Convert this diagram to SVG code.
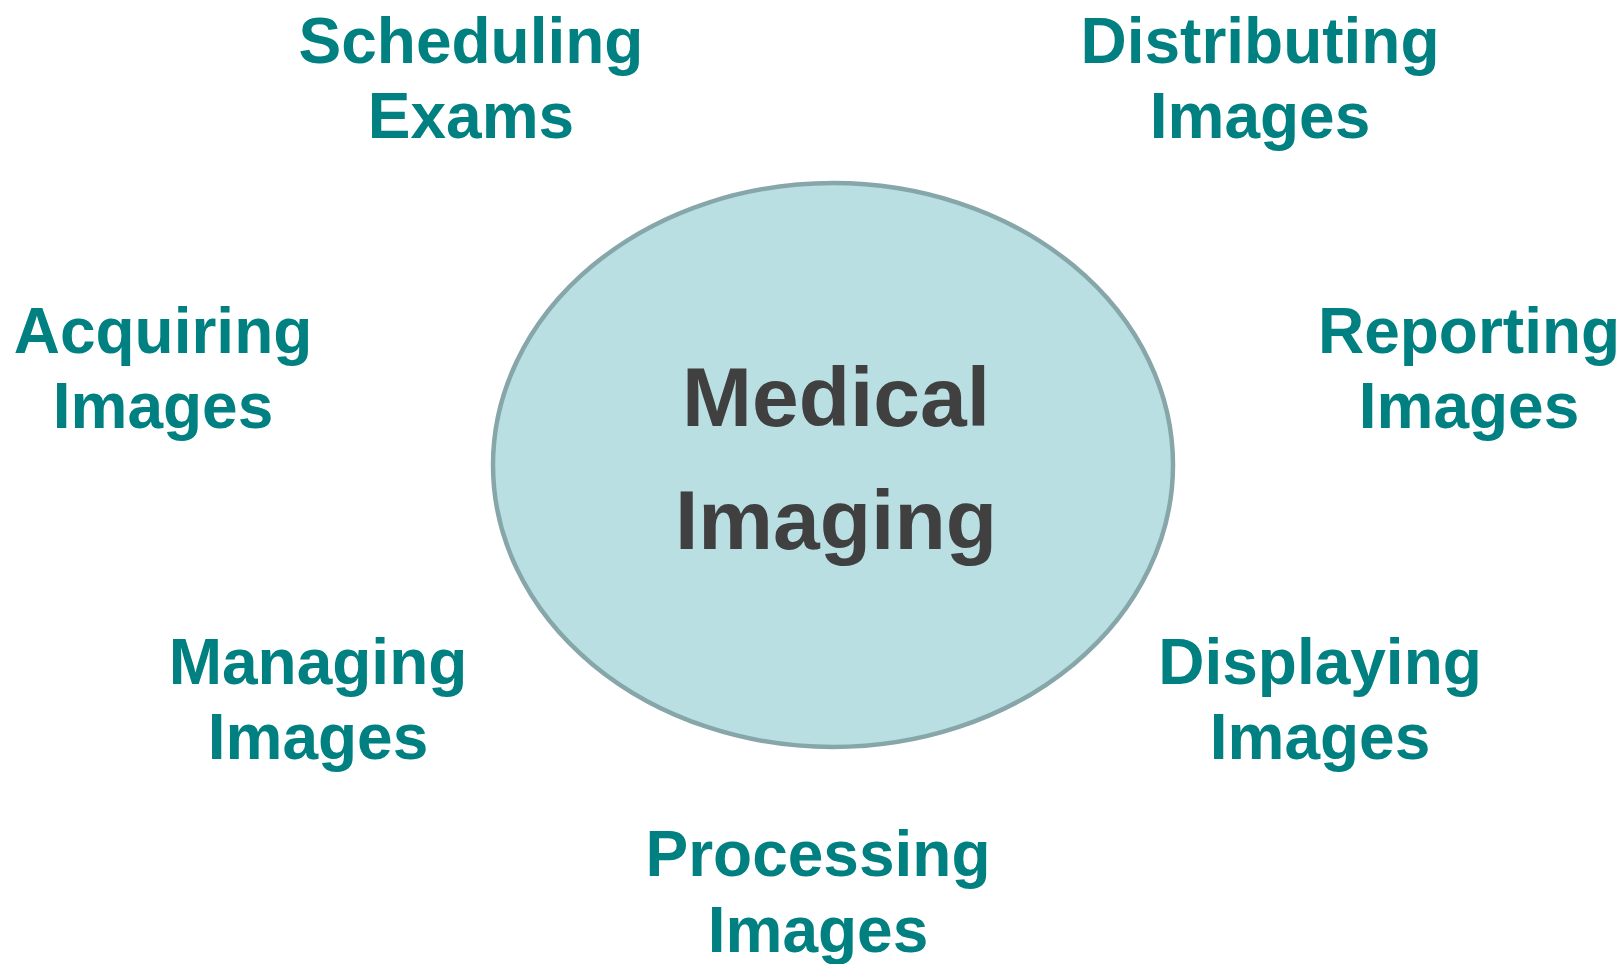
<svg xmlns="http://www.w3.org/2000/svg" width="1621" height="964" viewBox="0 0 1621 964">
  <style>
    .hub { fill: #b9dfe2; stroke: #87a6a9; stroke-width: 4.5; }
    .hub-label { font-family: "Liberation Sans", Arial, sans-serif; font-weight: bold; font-size: 84px; fill: #404040; text-anchor: middle; }
    .task { font-family: "Liberation Sans", Arial, sans-serif; font-weight: bold; font-size: 64px; fill: #008080; text-anchor: middle; }
  </style>
  <rect width="1621" height="964" fill="#ffffff"/>

  <!-- central hub -->
  <g id="medical-imaging">
    <ellipse class="hub" cx="833" cy="465" rx="340" ry="282"/>
    <text class="hub-label" x="836" y="426">Medical</text>
    <text class="hub-label" x="836" y="549">Imaging</text>
  </g>

  <!-- surrounding activities -->
  <g id="scheduling-exams">
    <text class="task" x="471" y="63">Scheduling</text>
    <text class="task" x="471" y="138">Exams</text>
  </g>
  <g id="distributing-images">
    <text class="task" x="1260" y="63">Distributing</text>
    <text class="task" x="1260" y="138">Images</text>
  </g>
  <g id="acquiring-images">
    <text class="task" x="163" y="353">Acquiring</text>
    <text class="task" x="163" y="428">Images</text>
  </g>
  <g id="reporting-images">
    <text class="task" x="1469" y="353">Reporting</text>
    <text class="task" x="1469" y="428">Images</text>
  </g>
  <g id="managing-images">
    <text class="task" x="318" y="684">Managing</text>
    <text class="task" x="318" y="759">Images</text>
  </g>
  <g id="displaying-images">
    <text class="task" x="1320" y="684">Displaying</text>
    <text class="task" x="1320" y="759">Images</text>
  </g>
  <g id="processing-images">
    <text class="task" x="818" y="876">Processing</text>
    <text class="task" x="818" y="952">Images</text>
  </g>

  <g id="connectors"/>
</svg>
